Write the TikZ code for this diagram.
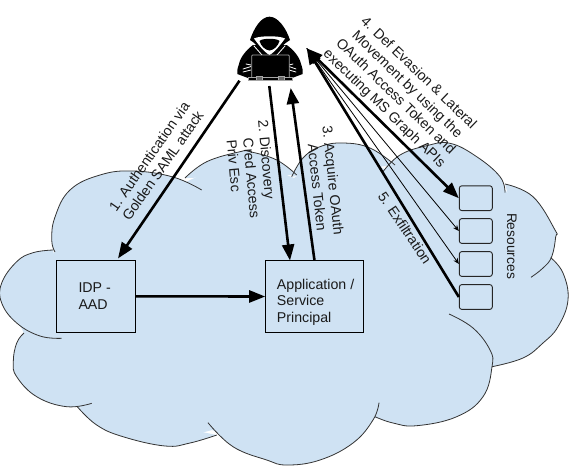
\documentclass[tikz,border=0pt]{standalone}
\usepackage{fontspec}
\setmainfont{Liberation Sans}
\usetikzlibrary{arrows.meta}
\definecolor{cloudblue}{HTML}{CFE2F3}
\definecolor{cloudline}{HTML}{333333}
\definecolor{inktext}{HTML}{1A1A1A}
\newcommand\LobeA{(55,252)(51.7,240)(55,217)(70,190)(100,175)(133,171)(173,177)(201.7,190)}
\newcommand\LobeB{(185,178)(206.7,161.7)(240,151.7)(250,151.7)(276.7,160)(296.7,175)}
\newcommand\LobeC{(291.7,176.7)(303,158)(320,146.7)(343,143)(370,148)(395,165)}
\newcommand\LobeD{(383,171.7)(400,155)(426.7,145.7)(450,143.3)(476.7,156.7)(500,176.7)(505,192.7)}
\newcommand\LobeE{(505,184)(533,196.7)(555,230)(555.7,236.7)(551.7,256.7)(543,268)(531,277.3)}
\newcommand\LobeF{(550.7,257.7)(563,273)(568,300)(558,326.7)(543,343)(523,358)(492,366.7)}
\newcommand\LobeG{(449,314)(473,328)(490,350)(492,366.7)(483,396.7)(456.7,416.7)(416.7,425.7)(393,423)(375,416.7)}
\newcommand\LobeH{(379,402.7)(373,420)(353,443)(320,460)(287,465)(266.7,460)(233,446.7)(208,422.7)}
\newcommand\LobeI{(216.7,435)(190,443)(165,446)(123,436.7)(96.7,425)(77.3,406.7)}
\newcommand\LobeJ{(91.7,403.3)(66.7,406.7)(36.7,396.7)(16.7,376.7)(13.3,361.7)(16.7,343)(24,333)}
\newcommand\LobeK{(61.7,338.3)(40,336)(16.7,323)(1.7,303)(1.7,283)(16.7,261.7)(33,252.7)(53.3,250)}
\newcommand\FillLobe[1]{\fill[cloudblue] plot[smooth,tension=.7] coordinates {#1} -- cycle;}
\newcommand\LineLobe[1]{\draw[cloudstroke] plot[smooth,tension=.7] coordinates {#1};}
\tikzset{
  cloudstroke/.style={draw=cloudline,line width=.8pt},
  boxnode/.style={draw=black,line width=1pt,fill=cloudblue,inner sep=0pt},
  resbox/.style={draw=black!85,line width=.9pt,fill=cloudblue,rounded corners=2.5pt,minimum width=33pt,minimum height=24.8pt,inner sep=0pt},
  label/.style={text=inktext,inner sep=0pt,font=\fontsize{14.2}{16.5}\selectfont},
  thick arrow/.style={line width=2.6pt,-{Triangle[length=16pt,width=12pt]},shorten >=0pt},
  both arrow/.style={line width=2.6pt,{Triangle[length=16pt,width=12pt]}-{Triangle[length=16pt,width=12pt]}},
  rev arrow/.style={line width=2.6pt,{Triangle[length=16pt,width=12pt]}-},
  thin arrow/.style={line width=.8pt,-{Stealth[length=6pt,width=5pt]}},
  hackerline/.style={draw=black!35,line width=.7pt},
  whiteline/.style={draw=white,line width=.8pt,line cap=round}
}
\begin{document}
\begin{tikzpicture}[x=1pt,y=-1pt]
\useasboundingbox (0,0) rectangle (569,466);
% cloud fill
\fill[cloudblue] (55,252)--(70,195)--(133,175)--(186,182)--(240,156)--(294,178)--(343,147)--(386,170)--(450,147)--(505,190)--(550,237)--(551,258)--(565,300)--(492,367)--(416,423)--(375,418)--(287,462)--(212,430)--(165,443)--(85,410)--(20,370)--(25,335)--(5,295)--cycle;
\FillLobe{\LobeA}\FillLobe{\LobeB}\FillLobe{\LobeC}\FillLobe{\LobeD}\FillLobe{\LobeE}\FillLobe{\LobeF}
\FillLobe{\LobeG}\FillLobe{\LobeH}\FillLobe{\LobeI}\FillLobe{\LobeJ}\FillLobe{\LobeK}
\LineLobe{\LobeA}\LineLobe{\LobeB}\LineLobe{\LobeC}\LineLobe{\LobeD}\LineLobe{\LobeE}\LineLobe{\LobeF}
\LineLobe{\LobeG}\LineLobe{\LobeH}\LineLobe{\LobeI}\LineLobe{\LobeJ}\LineLobe{\LobeK}
% hacker
\fill[black] (253,45) .. controls (246,50) and (240,58) .. (239,64) .. controls (237.5,68) and (237,71) .. (237.3,74) -- (248,78) -- (292,78) -- (302.7,74) .. controls (303,71) and (302.5,68) .. (301,64) .. controls (300,58) and (294,50) .. (286.7,45) -- cycle;
\fill[black] (250,40) .. controls (254,28) and (261,16.7) .. (269.5,16.7) .. controls (278,16.7) and (286,28) .. (290,40) .. controls (285,43) and (282,46) .. (279,50) -- (269.5,58) -- (260,50) .. controls (257,46) and (255,43) .. (250,40) -- cycle;
\fill[white] (254,38.5) .. controls (260,35.5) and (279,35.5) .. (285,38.5) .. controls (281,44) and (275,52) .. (269.5,55) .. controls (264,52) and (258,44) .. (254,38.5) -- cycle;
\fill[black] (259.5,41) .. controls (262,38) and (277,38) .. (279.5,41) .. controls (278,46) and (274,50) .. (269.5,50.5) .. controls (265,50) and (261,46) .. (259.5,41) -- cycle;
\draw[whiteline] (254,46)--(262,55);
\draw[whiteline] (285,46)--(277,55);
\draw[whiteline] (243,69)--(251,66.5);
\draw[whiteline] (243,72)--(251,70);
\draw[whiteline] (246,64)--(251,65);
\draw[whiteline] (296,69)--(289,66.5);
\draw[whiteline] (296,72)--(289,70);
\draw[whiteline] (293,64)--(289,65);
\draw[hackerline,fill=black,rounded corners=1pt] (251.7,55) rectangle (289.3,78);
\draw[hackerline,fill=black] (248,77) rectangle (292.7,80.7);
\draw[hackerline,fill=black!60] (256.7,76) rectangle (262.3,80);
\draw[hackerline,fill=black!60] (278.3,76) rectangle (284,80);
% boxes
\node[boxnode,minimum width=79pt,minimum height=72pt] (idp) at (96.2,296.3) {};
\node[boxnode,minimum width=97.6pt,minimum height=71.6pt] (app) at (314.5,296.5) {};
\node[resbox] (resa) at (475.8,198.2) {};
\node[resbox] (resb) at (475.8,231) {};
\node[resbox] (resc) at (475.8,264) {};
\node[resbox] (resd) at (475.8,297) {};
% anchor points
\coordinate (hkleft) at (239.5,80.7);
\coordinate (hkdown) at (269.3,86);
\coordinate (hkup) at (290.7,88);
\coordinate (hkright) at (306.7,48.3);
\coordinate (idpin) at (118,258.5);
\coordinate (appin) at (290,260.5);
\coordinate (appout) at (314.5,260.5);
% connectors
\draw[thick arrow] (hkleft) -- (idpin);
\draw[thick arrow] (hkdown) -- (appin);
\draw[thick arrow] (appout) -- (hkup);
\draw[thick arrow] (idp.east) -- (app.west);
\draw[thin arrow] (hkright) -- (resb.west);
\draw[thin arrow] (hkright) -- (resc.west);
\draw[both arrow] (hkright) -- (resa.west);
\draw[rev arrow] (hkright) -- (resd.west);
% labels
\node[label,rotate=55,align=center] (lone) at (156,161) {1. Authentication via\\Golden SAML attack};
\node[label,rotate=-85,align=left] (ltwo) at (251,170) {2. Discovery\\\hspace*{17pt}Cred Access\\\hspace*{17pt}Priv Esc};
\node[label,rotate=-84,align=left] (lthree) at (325,181) {3. Acquire OAuth\\\hspace*{16.5pt}Access Token};
\node[label,rotate=-44,align=center] (lfour) at (401,91) {4. Def Evasion \& Lateral\\Movement by using the\\OAuth Access Token and\\executing MS Graph APIs};
\node[label,rotate=-56] (lfive) at (405,228) {5. Exfiltration};
\node[label,rotate=-90,font=\fontsize{13.8}{16.5}\selectfont] (lres) at (511.7,246) {Resources};
\node[label,align=left,anchor=west] (lidp) at (78.3,296) {IDP -\\AAD};
\node[label,align=left,anchor=west] (lapp) at (276.7,302.3) {Application /\\Service\\Principal};
\end{tikzpicture}
\end{document}
